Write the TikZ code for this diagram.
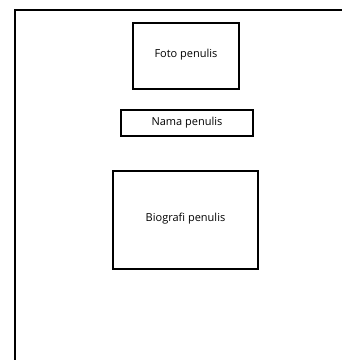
\documentclass[tikz,border=0pt]{standalone}
\usepackage{fontspec}
\setmainfont{Open Sans}
\usepackage{tikz}
\usetikzlibrary{positioning}

\tikzset{
    kotak/.style={draw, line width=1.6pt, rectangle, inner sep=0pt,
        font=\fontsize{11}{13}\selectfont}
}

\begin{document}
\begin{tikzpicture}[x=1pt, y=-1pt]

    % Fix the page size
    \useasboundingbox (0,0) rectangle (342,360);

    % Draw the page frame (left and top edges)
    \draw[line width=1.6pt] (15,362) -- (15,10) -- (344,10);

    % Draw the boxes of the author page
    \node[kotak, minimum width=106pt, minimum height=66pt] (foto) at (186,56) {\raisebox{5pt}{Foto penulis}};
    \node[kotak, minimum width=132pt, minimum height=26pt] (nama) at (187,123) {Nama penulis};
    \node[kotak, minimum width=145pt, minimum height=98pt] (bio) at (185.5,220) {\raisebox{5pt}{Biografi penulis}};

\end{tikzpicture}
\end{document}
